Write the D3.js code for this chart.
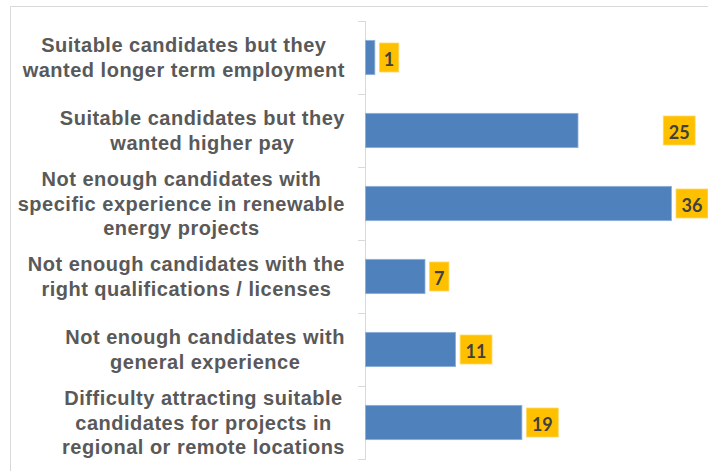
<!DOCTYPE html>
<html>
<head>
<meta charset="utf-8">
<script src="https://cdn.jsdelivr.net/npm/d3@7"></script>
<style>
  html, body { margin: 0; padding: 0; background: #fff; }
  svg { display: block; }
</style>
</head>
<body>
<svg id="chart" width="708" height="471"></svg>
<script>
// ---- Data ----
const categories = [
  ["Suitable candidates but they", "wanted longer term employment"],
  ["Suitable candidates but they", "wanted higher pay"],
  ["Not enough candidates with", "specific experience in renewable", "energy projects"],
  ["Not enough candidates with the", "right qualifications / licenses"],
  ["Not enough candidates with", "general experience"],
  ["Difficulty attracting suitable", "candidates for projects in", "regional or remote locations"]
];
// bar lengths
const values = [1.1, 25, 36, 7, 10.6, 18.4];
// printed data labels
const valueLabels = ["1", "25", "36", "7", "11", "19"];

// label for the 2nd bar was moved manually in the original (data units)
const labelNudge = {1: 34.5};

// ---- Layout ----
const W = 708, H = 471;
const svg = d3.select("#chart");

// outer chart border
svg.append("path")
  .attr("d", `M10.5,${H} L10.5,6.5 L${W},6.5`)
  .attr("fill", "none")
  .attr("stroke", "#d9d9d9")
  .attr("stroke-width", 1);

const y = d3.scaleBand()
  .domain(d3.range(values.length))
  .range([21, 459])
  .paddingInner(0.53)
  .paddingOuter(0.265);

const yBound = d3.scaleLinear().domain([0, values.length]).range([21, 459]);

const x = d3.scaleLinear().domain([0, 40]).range([365, 705]);

// axis line and ticks at category boundaries
const axisG = svg.append("g");
axisG.append("line")
  .attr("x1", 365.5).attr("x2", 365.5)
  .attr("y1", yBound(0)).attr("y2", yBound(values.length) + 0.5)
  .attr("stroke", "#d9d9d9");
axisG.selectAll("line.tick")
  .data(d3.range(values.length + 1))
  .join("line")
  .attr("class", "tick")
  .attr("x1", 358).attr("x2", 365.5)
  .attr("y1", d => Math.round(yBound(d)) + 0.5)
  .attr("y2", d => Math.round(yBound(d)) + 0.5)
  .attr("stroke", "#d9d9d9");

// bars
svg.append("g").selectAll("rect")
  .data(values)
  .join("rect")
  .attr("x", x(0) + 0.5)
  .attr("y", (d, i) => y(i))
  .attr("width", d => x(d) - x(0))
  .attr("height", y.bandwidth())
  .attr("fill", "#4F81BD")
  .attr("stroke", "#8fb0d9")
  .attr("stroke-width", 0.8);

// category labels (block right-aligned, lines centred within block)
const labelG = svg.append("g")
  .attr("font-family", "'Liberation Sans', Arial, Helvetica, sans-serif")
  .attr("font-weight", "bold")
  .attr("font-size", "20px")
  .attr("letter-spacing", "0.5px")
  .attr("fill", "#595959");

const lineH = 24.5;
categories.forEach((lines, i) => {
  const cy = y(i) + y.bandwidth() / 2;
  const texts = lines.map((ln, k) =>
    labelG.append("text")
      .attr("text-anchor", "middle")
      .attr("dominant-baseline", "central")
      .attr("y", cy + (k - (lines.length - 1) / 2) * lineH)
      .text(ln)
  );
  const maxW = d3.max(texts, t => t.node().getComputedTextLength());
  const cx = 345 - maxW / 2;
  texts.forEach(t => t.attr("x", cx));
});

// value labels in yellow boxes
const valG = svg.append("g");
values.forEach((v, i) => {
  const cy = y(i) + y.bandwidth() / 2;
  const vx = labelNudge[i] !== undefined ? labelNudge[i] : v;
  const left = x(vx) + 5;
  const g = valG.append("g");
  const rect = g.append("rect").attr("fill", "#FFC000").attr("stroke", "#ffd966").attr("stroke-width", 0.8);
  const t = g.append("text")
    .attr("font-family", "Lato, 'Open Sans', sans-serif")
    .attr("font-weight", "bold")
    .attr("font-size", "18px")
    .attr("fill", "#404040")
    .attr("dominant-baseline", "central")
    .attr("text-anchor", "middle")
    .text(valueLabels[i]);
  const tw = t.node().getComputedTextLength();
  const bw = tw + 9 + (valueLabels[i].length > 1 ? 2 : 0);
  const bh = 29;
  rect.attr("x", left).attr("y", cy - bh / 2).attr("width", bw).attr("height", bh);
  t.attr("x", left + bw / 2).attr("y", cy + 1);
});
</script>
</body>
</html>
